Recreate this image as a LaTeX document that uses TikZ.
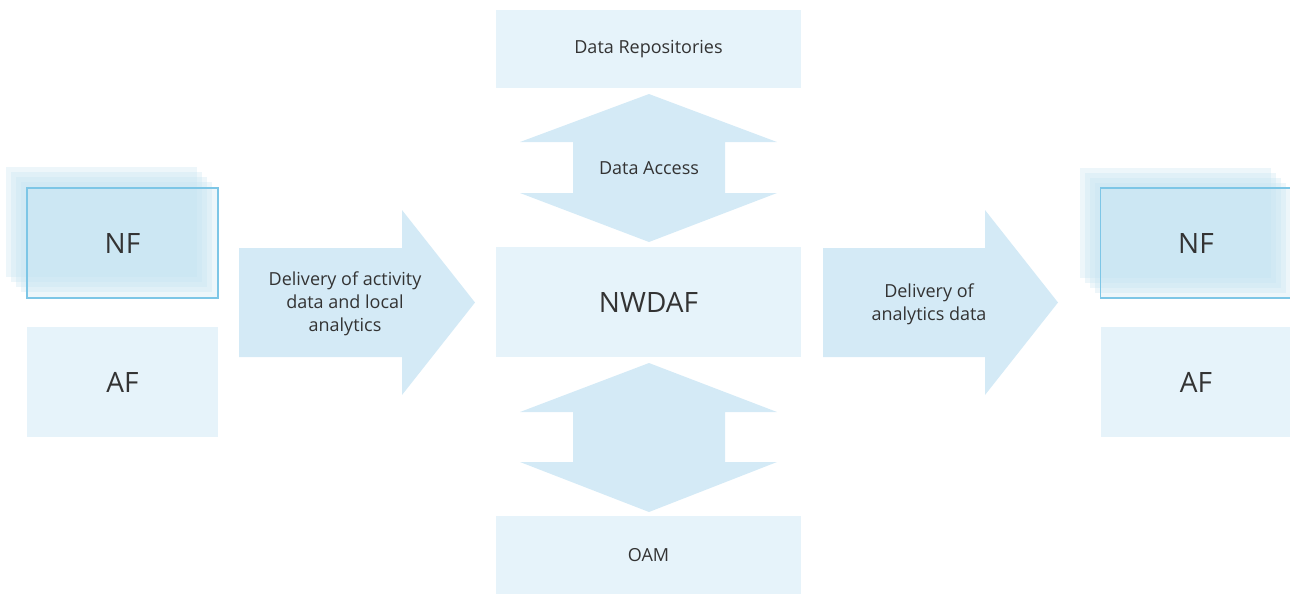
\documentclass[tikz,border=0pt]{standalone}
\usepackage{fontspec}
\setmainfont{Open Sans}
\definecolor{boxblue}{RGB}{230,243,250}
\definecolor{arrowblue}{RGB}{212,234,246}
\definecolor{layerblue}{RGB}{194,226,240}
\definecolor{lineblue}{RGB}{125,198,230}
\definecolor{txt}{RGB}{51,51,51}
\begin{document}
\begin{tikzpicture}[x=0.75pt,y=-0.75pt,
		box/.style={fill=boxblue,inner sep=0,outer sep=0,text=txt},
		widebox/.style={box,minimum width=228.75pt},
		sidebox/.style={box,minimum width=143.25pt,minimum height=82.5pt,font=\fontsize{21}{25}\selectfont},
		layer/.style={fill=layerblue,fill opacity=0.3},
		blockarrow/.style={fill=arrowblue},
		label/.style={text=txt,align=center,font=\fontsize{13.5}{17.25}\selectfont}]
			\useasboundingbox (0,0) rectangle (1290,594);
			% centre column
			\node[widebox,minimum height=58.5pt,font=\fontsize{13.5}{16}\selectfont] (repo) at (648.5,49) {Data Repositories};
			\node[widebox,minimum height=82.5pt,font=\fontsize{21}{25}\selectfont] (nwdaf) at (648.5,302) {NWDAF};
			\node[widebox,minimum height=58.5pt,font=\fontsize{13.5}{16}\selectfont] (oam) at (648.5,555) {OAM};
			\fill[blockarrow] (649,94) -- (777,142) -- (725,142) -- (725,193) -- (777,193) -- (649,242)
				-- (520,193) -- (573,193) -- (573,142) -- (520,142) -- cycle;
			\node[label] (access) at (649,168) {Data Access};
			\fill[blockarrow] (649,363) -- (777,412) -- (725,412) -- (725,462) -- (777,462) -- (649,512)
				-- (520,462) -- (573,462) -- (573,412) -- (520,412) -- cycle;
			% left side
			\foreach \d in {21,16,11,6,0}
				\fill[layer] (27-\d,188-\d) rectangle (218-\d,298-\d);
			\node[sidebox,fill=none,draw=lineblue,line width=1.3pt] (nfL) at (122.5,243) {NF};
			\node[sidebox] (afL) at (122.5,382) {AF};
			\fill[blockarrow] (239,248) -- (402,248) -- (402,210) -- (475,302.5) -- (402,395) -- (402,357) -- (239,357) -- cycle;
			\node[label] (inflow) at (345,304) {Delivery of activity\\data and local\\analytics};
			% right side
			\fill[blockarrow] (823,248) -- (985,248) -- (985,210) -- (1058,302.5) -- (985,395) -- (985,357) -- (823,357) -- cycle;
			\node[label] (outflow) at (929,304) {Delivery of\\analytics data};
			\foreach \d in {20,15,10,5,0}
				\fill[layer] (1100-\d,188-\d) rectangle (1291-\d,298-\d);
			\node[sidebox,fill=none,draw=lineblue,line width=1.3pt] (nfR) at (1196,243) {NF};
			\node[sidebox] (afR) at (1196,382) {AF};
		\end{tikzpicture}
\end{document}
